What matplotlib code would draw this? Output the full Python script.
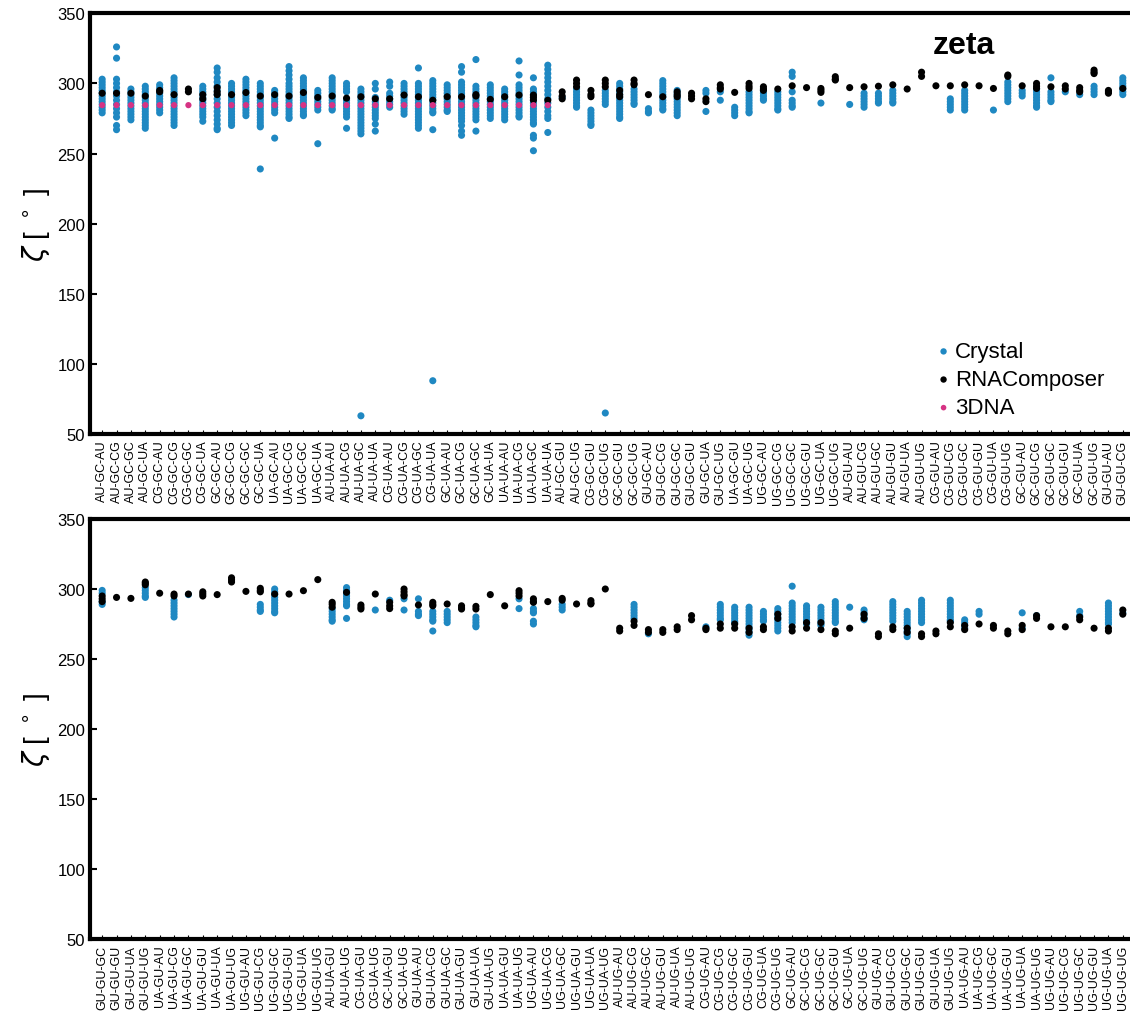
import numpy as np
import matplotlib
matplotlib.use("Agg")
import matplotlib.pyplot as plt

plt.rcParams['font.family'] = ['Liberation Sans', 'DejaVu Sans']

# tick labels
top_labels = ["AU-GC-AU", "AU-GC-CG", "AU-GC-GC", "AU-GC-UA", "CG-GC-AU", "CG-GC-CG", "CG-GC-GC", "CG-GC-UA",
              "GC-GC-AU", "GC-GC-CG", "GC-GC-GC", "GC-GC-UA", "UA-GC-AU", "UA-GC-CG", "UA-GC-GC", "UA-GC-UA",
              "AU-UA-AU", "AU-UA-CG", "AU-UA-GC", "AU-UA-UA", "CG-UA-AU", "CG-UA-CG", "CG-UA-GC", "CG-UA-UA",
              "GC-UA-AU", "GC-UA-CG", "GC-UA-GC", "GC-UA-UA", "UA-UA-AU", "UA-UA-CG", "UA-UA-GC", "UA-UA-UA",
              "AU-GC-GU", "AU-GC-UG", "CG-GC-GU", "CG-GC-UG", "GC-GC-GU", "GC-GC-UG", "GU-GC-AU", "GU-GC-CG",
              "GU-GC-GC", "GU-GC-GU", "GU-GC-UA", "GU-GC-UG", "UA-GC-GU", "UA-GC-UG", "UG-GC-AU", "UG-GC-CG",
              "UG-GC-GC", "UG-GC-GU", "UG-GC-UA", "UG-GC-UG", "AU-GU-AU", "AU-GU-CG", "AU-GU-GC", "AU-GU-GU",
              "AU-GU-UA", "AU-GU-UG", "CG-GU-AU", "CG-GU-CG", "CG-GU-GC", "CG-GU-GU", "CG-GU-UA", "CG-GU-UG",
              "GC-GU-AU", "GC-GU-CG", "GC-GU-GC", "GC-GU-GU", "GC-GU-UA", "GC-GU-UG", "GU-GU-AU", "GU-GU-CG"]

bottom_labels = ["GU-GU-GC", "GU-GU-GU", "GU-GU-UA", "GU-GU-UG", "UA-GU-AU", "UA-GU-CG", "UA-GU-GC", "UA-GU-GU",
                 "UA-GU-UA", "UA-GU-UG", "UG-GU-AU", "UG-GU-CG", "UG-GU-GC", "UG-GU-GU", "UG-GU-UA", "UG-GU-UG",
                 "AU-UA-GU", "AU-UA-UG", "CG-UA-GU", "CG-UA-UG", "GC-UA-GU", "GC-UA-UG", "GU-UA-AU", "GU-UA-CG",
                 "GU-UA-GC", "GU-UA-GU", "GU-UA-UA", "GU-UA-UG", "UA-UA-GU", "UA-UA-UG", "UG-UA-AU", "UG-UA-CG",
                 "UG-UA-GC", "UG-UA-GU", "UG-UA-UA", "UG-UA-UG", "AU-UG-AU", "AU-UG-CG", "AU-UG-GC", "AU-UG-GU",
                 "AU-UG-UA", "AU-UG-UG", "CG-UG-AU", "CG-UG-CG", "CG-UG-GC", "CG-UG-GU", "CG-UG-UA", "CG-UG-UG",
                 "GC-UG-AU", "GC-UG-CG", "GC-UG-GC", "GC-UG-GU", "GC-UG-UA", "GC-UG-UG", "GU-UG-AU", "GU-UG-CG",
                 "GU-UG-GC", "GU-UG-GU", "GU-UG-UA", "GU-UG-UG", "UA-UG-AU", "UA-UG-CG", "UA-UG-GC", "UA-UG-GU",
                 "UA-UG-UA", "UA-UG-UG", "UG-UG-AU", "UG-UG-CG", "UG-UG-GC", "UG-UG-GU", "UG-UG-UA", "UG-UG-UG"]

# zeta values (deg), one list per category
crystal_top = [
    [303, 301, 299, 297, 295, 293, 291, 289, 287, 285, 283, 281, 279],
    [326, 318, 303, 300, 297, 294, 291, 288, 285, 282, 279, 276, 270, 267],
    [296, 294, 292, 290, 288, 286, 284, 282, 280, 278, 276, 274],
    [298, 296, 294, 292, 290, 288, 286, 284, 282, 280, 278, 276, 274, 272, 270, 268],
    [299, 297, 295, 293, 291, 289, 287, 285, 283, 281, 279],
    [304, 302, 300, 298, 296, 294, 292, 290, 288, 286, 284, 282, 280, 278, 276, 274, 272, 270],
    [],
    [298, 296, 294, 292, 290, 288, 286, 284, 282, 280, 278, 276, 273],
    [311, 308, 304, 301, 298, 295, 292, 289, 286, 283, 280, 277, 274, 271, 268, 267],
    [300, 298, 296, 294, 292, 290, 288, 286, 284, 282, 280, 278, 276, 274, 272, 270],
    [303, 301, 299, 297, 295, 293, 291, 289, 287, 285, 283, 281, 279, 277],
    [300, 298, 296, 294, 292, 290, 288, 286, 284, 282, 280, 278, 276, 274, 272, 270, 269, 239],
    [295, 293, 291, 289, 287, 285, 283, 281, 279, 261],
    [312, 309, 306, 303, 300, 298, 296, 294, 292, 290, 288, 286, 284, 282, 280, 278, 276, 275],
    [304, 302, 300, 298, 296, 294, 292, 290, 288, 286, 284, 282, 280, 278, 277],
    [295, 293, 291, 289, 287, 285, 283, 281, 257],
    [304, 302, 300, 298, 296, 294, 292, 290, 288, 286, 284, 282, 281],
    [300, 298, 296, 294, 288, 286, 284, 282, 280, 278, 276, 268],
    [296, 294, 292, 290, 288, 286, 284, 282, 280, 278, 276, 274, 272, 270, 268, 266, 264, 63],
    [300, 296, 290, 287, 285, 283, 281, 279, 277, 275, 271, 266],
    [301, 298, 293, 291, 289, 287, 285, 283],
    [300, 298, 296, 294, 292, 290, 288, 286, 284, 282, 280, 278],
    [311, 300, 298, 296, 294, 292, 290, 288, 286, 284, 282, 280, 278, 276, 274, 272, 270, 268],
    [302, 300, 298, 296, 294, 292, 290, 288, 286, 284, 282, 280, 279, 267, 88],
    [299, 297, 295, 293, 291, 289, 287, 285, 283, 281, 280],
    [312, 308, 301, 299, 297, 295, 293, 291, 289, 287, 285, 283, 281, 279, 277, 275, 273, 270, 266, 263],
    [317, 298, 296, 294, 292, 290, 288, 286, 284, 282, 280, 278, 276, 274, 266],
    [299, 297, 295, 293, 291, 289, 287, 285, 283, 281, 279, 277, 275],
    [296, 294, 292, 290, 288, 286, 284, 282, 280, 278, 276, 274],
    [316, 306, 299, 297, 295, 293, 291, 289, 287, 285, 283, 281, 279, 277, 276],
    [304, 296, 294, 292, 290, 288, 286, 284, 282, 280, 278, 276, 274, 272, 271, 263, 261, 252],
    [313, 310, 307, 304, 301, 298, 295, 292, 289, 286, 283, 280, 277, 275, 265],
    [290],
    [296, 294, 292, 290, 288, 286, 284, 283],
    [281, 279, 277, 275, 273, 271, 270],
    [295, 293, 291, 289, 287, 285, 65],
    [300, 298, 296, 294, 292, 290, 288, 286, 284, 282, 280, 278, 276, 275],
    [296, 294, 292, 290, 288, 286, 285],
    [282, 280, 279],
    [302, 300, 298, 296, 294, 292, 290, 288, 286, 284, 282, 281],
    [295, 293, 291, 289, 287, 285, 283, 281, 279, 277],
    [],
    [295, 293, 280],
    [294, 288],
    [283, 281, 279, 277],
    [294, 292, 290, 288, 286, 284, 282, 280, 279],
    [295, 293, 291, 289, 288],
    [294, 292, 290, 288, 286, 284, 282, 281],
    [308, 305, 294, 288, 286, 284, 283],
    [],
    [286],
    [],
    [285],
    [293, 291, 289, 287, 285, 283],
    [293, 291, 289, 287, 286],
    [295, 293, 291, 289, 287, 286],
    [],
    [],
    [],
    [289, 287, 285, 283, 281],
    [295, 293, 291, 289, 287, 285, 283, 281],
    [],
    [281],
    [301, 299, 297, 295, 293, 291, 289, 287],
    [295, 293, 291],
    [296, 294, 292, 290, 288, 286, 284, 283],
    [304, 294, 292, 290, 288, 287],
    [294],
    [292],
    [298, 296, 294, 292],
    [],
    [304, 302, 300, 298, 296, 294, 292],
]

rnacomposer_top = [
    [293], [293], [293], [291], [295, 294], [292], [296, 294], [292, 289],
    [297, 294, 292], [292], [293.5], [291], [292], [291], [293.5], [290],
    [291], [289.5], [290.5], [289], [289], [291.7], [290.5], [288],
    [290.5], [290.5], [292, 291], [288.6], [290.5], [291.7], [291.7, 290, 288], [288],
    [294, 291, 289], [302.4, 300, 297.6], [295, 292, 290.5], [302.4, 300, 297.6],
    [295, 292, 290.5], [302.4, 300, 299], [292], [290.5],
    [294, 292, 290.5], [293, 291, 289], [289, 287], [299, 297, 296],
    [293.6], [300, 298, 296.4], [297.6, 296, 295], [296],
    [298.3], [297], [296.4, 295, 293.6], [304.8, 303, 302.4],
    [297], [297.6], [298], [299], [296], [308, 305], [298.3], [298.3],
    [299], [298.3], [296.4], [306, 305], [298.3], [300, 298, 296.4],
    [297.6], [298.3, 296], [297, 295, 294], [309.5, 308, 307], [295, 294, 293], [296.4],
]

dna3_top = [284.5, 284.5, 284.5, 284.5, 284.5, 284.5, 284.5, 284.5,
            284.5, 284.5, 284.5, 284.5, 284.5, 284.5, 284.5, 284.5,
            284.5, 284.5, 284.5, 284.5, 284.5, 284.5, 284.5, 284.5,
            284.5, 284.5, 284.5, 284.5, 284.5, 284.5, 284.5, 284.5]

crystal_bottom = [
    [299, 297, 291, 289], [], [], [301, 299, 297, 295, 294], [],
    [292, 290, 288, 286, 284, 282, 280], [296], [], [], [], [],
    [289, 287, 285, 284], [300, 298, 296, 294, 292, 290, 288, 286, 284, 283], [], [], [],
    [286, 284, 282, 280, 278, 277], [301, 299, 297, 295, 293, 291, 289, 288, 279], [],
    [285], [292], [293, 285], [293, 284, 282, 281], [284, 282, 280, 278, 277, 270],
    [284, 282, 280, 278, 276], [], [280, 278, 276, 274, 273], [], [], [293, 286],
    [286, 284, 283, 277, 275], [], [289, 287, 285], [], [], [],
    [], [289, 287, 285, 283, 281, 279], [268], [], [], [],
    [273], [289, 287, 285, 283, 281, 279, 278], [287, 285, 283, 281, 279, 277, 276],
    [287, 285, 283, 281, 279, 277, 275, 273, 271, 269, 267], [284, 282, 280, 278, 277],
    [286, 284, 282, 280, 278, 276, 274, 272, 270],
    [302, 290, 288, 286, 284, 282, 280, 278, 276], [288, 286, 284, 282, 280, 278, 276, 275],
    [287, 285, 283, 281, 279, 277, 275, 274], [291, 289, 287, 285, 283, 281, 279, 277, 276],
    [287], [285, 283, 281, 279, 278], [], [291, 289, 287, 285, 283, 281, 279, 277],
    [284, 282, 280, 278, 276, 274, 272, 270, 268, 266], [292, 290, 288, 286, 284, 282, 280, 278, 276],
    [], [292, 290, 288, 286, 284, 282, 280, 278, 277], [278, 276, 274, 272], [284, 282],
    [], [], [283, 272], [281], [], [], [284, 281], [],
    [290, 288, 286, 284, 282, 280, 278, 276, 275], [283],
]

rnacomposer_bottom = [
    [295, 293, 291], [294], [293.3], [305, 304, 303], [297], [296.4, 295], [296.4], [298, 296.5, 295],
    [296], [308, 306.5, 305], [298.3], [300.5, 299, 298], [296.4], [296.4], [298.8], [306.7],
    [290.5, 289, 287], [297.6], [288.6, 287, 285.7], [296.4], [290.5, 288, 286], [300, 298, 296, 295],
    [288.6], [290.5, 289, 288], [289.3], [288, 286.5, 285.7], [287.6, 285.7], [296], [288],
    [298.8, 297, 295], [293, 291, 290.5], [291], [293.3, 292], [289.3], [291.7, 290, 289.3], [300],
    [272, 270], [277, 274], [271, 269], [271, 269], [273, 271], [281, 278], [272, 271], [275, 272],
    [275, 272], [272, 269], [273, 271], [282, 279], [273, 270], [276, 272], [276, 271], [270, 268],
    [272], [282, 279], [268, 266], [273, 271], [272, 269], [268, 266], [270, 268], [276, 273],
    [274, 271], [275], [274, 272], [270, 268], [274, 271], [281, 279], [273], [273],
    [280, 278], [272], [272, 270], [285, 282],
]

blue = "#1f88c2"
black = "#000000"
pink = "#d63384"


def flat(groups):
    xs, ys = [], []
    for i, g in enumerate(groups):
        for v in g:
            xs.append(i)
            ys.append(v)
    return np.array(xs), np.array(ys)


fig = plt.figure(figsize=(11.3, 10.2), dpi=100)
ax1 = fig.add_axes([0.0796, 0.5735, 0.9204, 0.4125])
ax2 = fig.add_axes([0.0796, 0.0784, 0.9204, 0.4118])

panels = [(ax1, top_labels, crystal_top, rnacomposer_top, dna3_top),
          (ax2, bottom_labels, crystal_bottom, rnacomposer_bottom, None)]

for ax, labels, cry, rna, dna in panels:
    x, y = flat(cry)
    ax.scatter(x, y, s=26, color=blue, edgecolors='none', label='Crystal', zorder=2)
    x, y = flat(rna)
    ax.scatter(x, y, s=26, color=black, edgecolors='none', label='RNAComposer', zorder=3)
    if dna is not None:
        ax.scatter(np.arange(len(dna)), dna, s=20, color=pink, edgecolors='none', label='3DNA', zorder=4)

    ax.set_xlim(-0.85, len(labels) - 0.5)
    ax.set_ylim(50, 350)
    ax.set_yticks([50, 100, 150, 200, 250, 300, 350])
    ax.set_xticks(np.arange(len(labels)))
    ax.set_xticklabels(labels, rotation=90, fontsize=9)
    ax.tick_params(axis='y', direction='in', length=5, width=1.5, labelsize=12)
    ax.tick_params(axis='x', direction='in', length=3, width=0.8, pad=4)
    for side in ['left', 'top', 'bottom']:
        ax.spines[side].set_linewidth(3)
    ax.spines['right'].set_visible(False)
    ax.set_ylabel(r'$\zeta$ [ $^\circ$ ]', fontsize=20, labelpad=4)

ax1.text(0.84, 0.925, 'zeta', transform=ax1.transAxes, fontsize=23, fontweight='bold',
         ha='center', va='center')
ax1.legend(loc='lower right', frameon=False, fontsize=16, handletextpad=-0.3,
           handlelength=1.6, markerscale=0.9, borderaxespad=0.3, labelspacing=0.32,
           bbox_to_anchor=(0.99, 0.0))

fig.savefig('out.png', dpi=100)
